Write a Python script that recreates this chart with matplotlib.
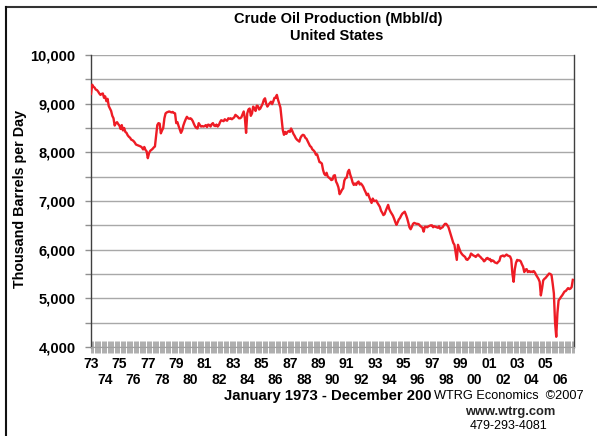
import matplotlib
matplotlib.use("Agg")
import matplotlib.pyplot as plt
from matplotlib.lines import Line2D
from matplotlib.ticker import FuncFormatter, MultipleLocator, FixedLocator
import numpy as np

plt.rcParams["font.family"] = ["Liberation Sans", "DejaVu Sans"]

# Monthly US crude oil production, thousand barrels per day
prod_1970s = [
    9200, 9390, 9350, 9330, 9290, 9280, 9250, 9210, 9180, 9200, 9210, 9120,  # 1973
    9150, 9050, 9100, 8950, 8900, 8850, 8750, 8700, 8550, 8600, 8620, 8580,  # 1974
    8550, 8480, 8560, 8450, 8500, 8420, 8400, 8350, 8320, 8300, 8260, 8250,  # 1975
    8230, 8200, 8160, 8150, 8140, 8130, 8120, 8100, 8060, 8110, 8050, 8020,  # 1976
    7880, 7980, 8030, 8050, 8070, 8100, 8120, 8350, 8560, 8600, 8590, 8390,  # 1977
    8450, 8500, 8700, 8800, 8820, 8830, 8840, 8830, 8820, 8830, 8810, 8800,  # 1978
    8600, 8620, 8540, 8470, 8400, 8450, 8550, 8620, 8680, 8730, 8700, 8690,  # 1979
]
prod_1980s = [
    8700, 8680, 8640, 8580, 8530, 8500, 8490, 8600, 8560, 8530, 8540, 8530,  # 1980
    8540, 8560, 8520, 8570, 8560, 8530, 8580, 8600, 8550, 8540, 8570, 8530,  # 1981
    8560, 8620, 8660, 8650, 8640, 8680, 8660, 8650, 8700, 8690, 8700, 8680,  # 1982
    8700, 8720, 8770, 8750, 8730, 8700, 8700, 8720, 8780, 8840, 8700, 8400,  # 1983
    8800, 8880, 8900, 8750, 8800, 8940, 8900, 8850, 8960, 8950, 8880, 8900,  # 1984
    8950, 9000, 9080, 9110, 9000, 8940, 8980, 9010, 9040, 8990, 9050, 9120,  # 1985
    9120, 9180, 9080, 9000, 8920, 8700, 8460, 8360, 8420, 8380, 8420, 8440,  # 1986
    8420, 8490, 8440, 8380, 8340, 8290, 8260, 8240, 8220, 8300, 8340, 8360,  # 1987
    8350, 8300, 8280, 8230, 8180, 8130, 8110, 8060, 8040, 8010, 7950, 7960,  # 1988
    7880, 7800, 7790, 7770, 7640, 7560, 7530, 7580, 7500, 7480, 7460, 7430,  # 1989
]
prod_1990s = [
    7440, 7520, 7530, 7400, 7350, 7280, 7140, 7180, 7230, 7260, 7420, 7470,  # 1990
    7480, 7600, 7640, 7540, 7470, 7380, 7330, 7360, 7330, 7380, 7400, 7340,  # 1991
    7360, 7330, 7290, 7230, 7180, 7120, 7150, 7080, 7020, 6960, 7050, 7000,  # 1992
    7000, 7010, 6960, 6920, 6880, 6800, 6760, 6710, 6730, 6800, 6860, 6920,  # 1993
    6830, 6780, 6740, 6700, 6640, 6570, 6510, 6560, 6620, 6650, 6700, 6740,  # 1994
    6760, 6780, 6720, 6650, 6560, 6460, 6420, 6470, 6530, 6550, 6540, 6530,  # 1995
    6530, 6520, 6490, 6470, 6450, 6370, 6470, 6470, 6460, 6480, 6490, 6500,  # 1996
    6500, 6460, 6480, 6470, 6460, 6450, 6480, 6430, 6450, 6460, 6500, 6530,  # 1997
    6530, 6500, 6460, 6380, 6300, 6220, 6140, 6100, 5950, 5790, 6100, 6030,  # 1998
    5960, 5920, 5890, 5870, 5850, 5800, 5790, 5820, 5850, 5920, 5900, 5880,  # 1999
]
prod_2000s = [
    5870, 5850, 5880, 5900, 5870, 5850, 5820, 5800, 5760, 5780, 5820, 5830,  # 2000
    5800, 5810, 5760, 5780, 5770, 5740, 5730, 5720, 5750, 5770, 5860, 5870,  # 2001
    5880, 5860, 5880, 5900, 5880, 5870, 5860, 5800, 5500, 5340, 5600, 5730,  # 2002
    5790, 5780, 5780, 5760, 5700, 5650, 5540, 5590, 5600, 5540, 5560, 5540,  # 2003
    5550, 5540, 5560, 5530, 5480, 5440, 5400, 5340, 5060, 5200, 5370, 5400,  # 2004
    5420, 5450, 5480, 5510, 5500, 5480, 5300, 5100, 4500, 4210, 4700, 4960,  # 2005
    4990, 5030, 5060, 5100, 5140, 5150, 5180, 5210, 5190, 5200, 5230, 5380,  # 2006
]
years = list(range(1973, 2007))

production = np.array(prod_1970s + prod_1980s + prod_1990s + prod_2000s)
months = np.arange(len(production))

fig = plt.figure(figsize=(5.97, 4.36), dpi=100)
ax = fig.add_axes([91 / 597, 89 / 436, 483 / 597, 292 / 436])

ax.plot(months, production, color="#EE1C25", lw=1.7, zorder=3)

ax.set_xlim(0, len(production))
ax.set_ylim(4000, 10000)

# y axis: labels every 1000, grid every 500
ax.yaxis.set_major_locator(MultipleLocator(1000))
ax.yaxis.set_minor_locator(MultipleLocator(500))
ax.yaxis.set_major_formatter(FuncFormatter(lambda v, p: f"{int(v):,}"))
ax.grid(axis="y", which="both", color="#A8A8A8", lw=1.0)
ax.set_axisbelow(True)
ax.tick_params(axis="y", which="both", length=4, width=1, color="#909090",
               pad=7, labelsize=10.5)
for lab in ax.get_yticklabels():
    lab.set_fontweight("bold")

# x axis: a tick every month, year labels staggered on two rows
ax.xaxis.set_major_locator(FixedLocator([12 * i for i in range(len(years))]))
ax.xaxis.set_minor_locator(FixedLocator(months.tolist() + [len(production)]))
ax.set_xticklabels([f"{y % 100:02d}" if y % 2 else f"\n{y % 100:02d}" for y in years],
                   fontweight="bold", fontsize=10, linespacing=1.2)
ax.tick_params(axis="x", which="both", direction="inout", length=8, width=0.6,
               color="#A0A0A0", pad=3)

for side in ["left", "right"]:
    ax.spines[side].set_color("#404040")
    ax.spines[side].set_linewidth(1.0)
ax.spines["top"].set_visible(False)
ax.spines["bottom"].set_color("#A0A0A0")

# outer frame
fig.add_artist(Line2D([6 / 597, 1], [1 - 7 / 436, 1 - 7 / 436], color="#333333", lw=1.5))
fig.add_artist(Line2D([6 / 597, 6 / 597], [0, 1 - 7 / 436], color="#111111", lw=1.5))

fig.text(338 / 597, 1 - 19 / 436, "Crude Oil Production (Mbbl/d)", ha="center", va="center",
         fontsize=10.5, fontweight="bold")
fig.text(337 / 597, 1 - 36 / 436, "United States", ha="center", va="center",
         fontsize=10.5, fontweight="bold")
fig.text(20 / 597, 1 - 199 / 436, "Thousand Barrels per Day", rotation=90,
         ha="center", va="center", fontsize=10.3, fontweight="bold")

fig.text(432 / 597, 1 - 396 / 436, "January 1973 - December 200", ha="right", va="center",
         fontsize=10.7, fontweight="bold")
fig.text(434 / 597, 1 - 396 / 436, "WTRG Economics  \u00a92007", ha="left", va="center",
         fontsize=9.2)
fig.text(510 / 597, 1 - 412 / 436, "www.wtrg.com", ha="center", va="center",
         fontsize=9.3, fontweight="bold", color="#222222")
fig.text(509 / 597, 1 - 426 / 436, "479-293-4081", ha="center", va="center",
         fontsize=9)

fig.savefig("out.png", dpi=100, facecolor="white")
